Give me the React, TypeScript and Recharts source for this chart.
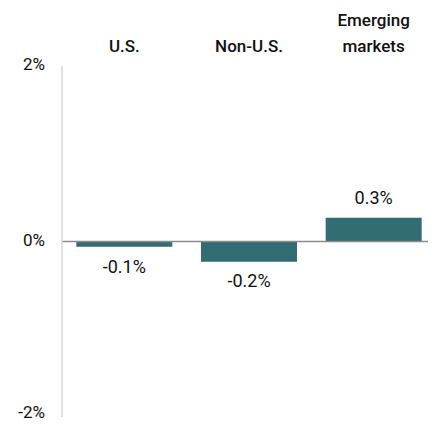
import { BarChart, Bar, XAxis, YAxis, ReferenceLine, LabelList, Cell } from "recharts";

const regions = ["U.S.", "Non-U.S.", "Emerging markets"];
const returns = [-0.06, -0.23, 0.27];
const yTicks = [-2, 0, 2];

const data = regions.map((name, i) => ({ name, value: returns[i] }));

const FONT = "Roboto, 'Liberation Sans', Arial, sans-serif";
const BAR_COLOR = "#326d73";

const RegionTick = (props: any) => {
  const { x, y, payload } = props;
  const words: string[] = payload.value === "Emerging markets" ? ["Emerging", "markets"] : [payload.value];
  return (
    <g>
      {words.map((w, i) => (
        <text
          key={w}
          x={x}
          y={y - (words.length - 1 - i) * 26}
          textAnchor="middle"
          fontFamily={FONT}
          fontSize={17}
          fontWeight={500}
          fill="#111"
        >
          {w}
        </text>
      ))}
    </g>
  );
};

// keep the bottom label inside the frame
const PctTick = (props: any) => {
  const { x, y, payload } = props;
  const nudge = payload.value === yTicks[0] ? -3 : 0;
  return (
    <text
      x={x}
      y={y + nudge}
      textAnchor="end"
      dominantBaseline="middle"
      fontFamily={FONT}
      fontSize={17}
      fill="#111"
    >
      {`${payload.value}%`}
    </text>
  );
};

const ValueLabel = (props: any) => {
  const { x, y, width, height, value } = props;
  const top = Math.min(y, y + height);
  const bottom = Math.max(y, y + height);
  const ty = value >= 0 ? top - 19 : bottom + 21;
  return (
    <text
      x={x + width / 2}
      y={ty}
      textAnchor="middle"
      dominantBaseline="middle"
      fontFamily={FONT}
      fontSize={18}
      fill="#111"
    >
      {`${value.toFixed(1)}%`}
    </text>
  );
};

const App = () => {
  return (
    <div style={{ marginLeft: -8, marginTop: -8 }}>
      <BarChart
        width={436}
        height={425}
        data={data}
        margin={{ top: 9, right: 0, bottom: 8, left: 0 }}
        barCategoryGap="11.5%"
      >
        <XAxis
          dataKey="name"
          orientation="top"
          height={57}
          axisLine={false}
          tickLine={false}
          tickSize={0}
          tickMargin={14}
          interval={0}
          tick={<RegionTick />}
        />
        <YAxis
          domain={[-2, 2]}
          ticks={yTicks}
          interval={0}
          width={62}
          tickLine={false}
          tickSize={0}
          tickMargin={17}
          axisLine={{ stroke: "#d9d9d9", strokeWidth: 1.5 }}
          tick={<PctTick />}
        />
        <Bar dataKey="value" fill={BAR_COLOR} isAnimationActive={false}>
          {data.map((d) => (
            <Cell key={d.name} fill={BAR_COLOR} />
          ))}
          <LabelList dataKey="value" content={<ValueLabel />} />
        </Bar>
        <ReferenceLine y={0} stroke="#8c8c8c" strokeWidth={1.5} />
      </BarChart>
    </div>
  );
};

export default App;
